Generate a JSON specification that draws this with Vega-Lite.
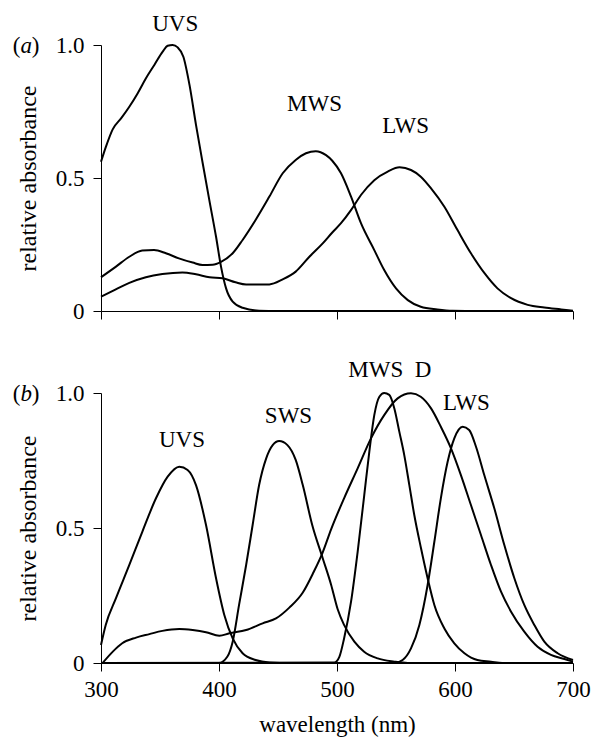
{
  "$schema": "https://vega.github.io/schema/vega-lite/v6.json",
  "padding": {"left": 12, "top": 12, "right": 5, "bottom": 5},
  "background": "white",
  "bounds": "flush",
  "spacing": 82,
  "config": {
    "view": {"stroke": null},
    "font": "Liberation Serif",
    "style": {
      "guide-label": {"font": "Liberation Serif", "fill": "black"},
      "guide-title": {"font": "Liberation Serif", "fill": "black", "fontWeight": "normal"}
    },
    "axis": {
      "grid": false,
      "domainColor": "black",
      "tickColor": "black",
      "labelColor": "black",
      "titleColor": "black",
      "labelFont": "Liberation Serif",
      "titleFont": "Liberation Serif",
      "labelFontSize": 23,
      "titleFontSize": 23,
      "titleFontWeight": "normal",
      "labelFlush": false,
      "tickSize": 8,
      "domainWidth": 1,
      "tickWidth": 1
    },
    "text": {"font": "Liberation Serif", "fontSize": 23, "color": "black"}
  },
  "datasets": {
    "curvesA": [
      {"p": "UVS", "wl": 300, "r": 0.561}, {"p": "UVS", "wl": 304.2, "r": 0.618}, {"p": "UVS", "wl": 309.9, "r": 0.683},
      {"p": "UVS", "wl": 317, "r": 0.724}, {"p": "UVS", "wl": 324, "r": 0.768}, {"p": "UVS", "wl": 331, "r": 0.818},
      {"p": "UVS", "wl": 338.1, "r": 0.875}, {"p": "UVS", "wl": 345.2, "r": 0.925}, {"p": "UVS", "wl": 352.3, "r": 0.975},
      {"p": "UVS", "wl": 356.5, "r": 0.997}, {"p": "UVS", "wl": 360.7, "r": 1.0}, {"p": "UVS", "wl": 365, "r": 0.991},
      {"p": "UVS", "wl": 369.8, "r": 0.956}, {"p": "UVS", "wl": 375, "r": 0.85}, {"p": "UVS", "wl": 380.5, "r": 0.70},
      {"p": "UVS", "wl": 386, "r": 0.56}, {"p": "UVS", "wl": 391.8, "r": 0.417}, {"p": "UVS", "wl": 397.5, "r": 0.279},
      {"p": "UVS", "wl": 401.7, "r": 0.167}, {"p": "UVS", "wl": 406, "r": 0.085}, {"p": "UVS", "wl": 411.6, "r": 0.035},
      {"p": "UVS", "wl": 420, "r": 0.012}, {"p": "UVS", "wl": 434, "r": 0.001}, {"p": "UVS", "wl": 450, "r": 0},
      {"p": "UVS", "wl": 550, "r": 0}, {"p": "UVS", "wl": 700, "r": 0},
      {"p": "MWS", "wl": 300, "r": 0.127}, {"p": "MWS", "wl": 312.7, "r": 0.167}, {"p": "MWS", "wl": 324, "r": 0.204},
      {"p": "MWS", "wl": 335, "r": 0.227}, {"p": "MWS", "wl": 345, "r": 0.229}, {"p": "MWS", "wl": 355, "r": 0.217},
      {"p": "MWS", "wl": 366, "r": 0.198}, {"p": "MWS", "wl": 377.7, "r": 0.182}, {"p": "MWS", "wl": 386, "r": 0.173},
      {"p": "MWS", "wl": 394.6, "r": 0.174}, {"p": "MWS", "wl": 401.7, "r": 0.185}, {"p": "MWS", "wl": 411.6, "r": 0.217},
      {"p": "MWS", "wl": 420, "r": 0.267}, {"p": "MWS", "wl": 431, "r": 0.342}, {"p": "MWS", "wl": 442.7, "r": 0.43},
      {"p": "MWS", "wl": 454, "r": 0.518}, {"p": "MWS", "wl": 465, "r": 0.568}, {"p": "MWS", "wl": 473.7, "r": 0.593},
      {"p": "MWS", "wl": 482, "r": 0.601}, {"p": "MWS", "wl": 490.7, "r": 0.586}, {"p": "MWS", "wl": 496, "r": 0.565},
      {"p": "MWS", "wl": 503.4, "r": 0.518}, {"p": "MWS", "wl": 511.9, "r": 0.43}, {"p": "MWS", "wl": 520.3, "r": 0.33},
      {"p": "MWS", "wl": 531.6, "r": 0.229}, {"p": "MWS", "wl": 540, "r": 0.154}, {"p": "MWS", "wl": 550, "r": 0.085},
      {"p": "MWS", "wl": 560, "r": 0.041}, {"p": "MWS", "wl": 571, "r": 0.016}, {"p": "MWS", "wl": 585, "r": 0.006},
      {"p": "MWS", "wl": 598, "r": 0.001}, {"p": "MWS", "wl": 620, "r": 0}, {"p": "MWS", "wl": 700, "r": 0},
      {"p": "LWS", "wl": 300, "r": 0.054}, {"p": "LWS", "wl": 310, "r": 0.076}, {"p": "LWS", "wl": 324, "r": 0.106},
      {"p": "LWS", "wl": 338, "r": 0.127}, {"p": "LWS", "wl": 352, "r": 0.139}, {"p": "LWS", "wl": 369, "r": 0.145},
      {"p": "LWS", "wl": 380.5, "r": 0.138}, {"p": "LWS", "wl": 392, "r": 0.127}, {"p": "LWS", "wl": 403, "r": 0.123},
      {"p": "LWS", "wl": 414, "r": 0.108}, {"p": "LWS", "wl": 423, "r": 0.1}, {"p": "LWS", "wl": 442.7, "r": 0.1},
      {"p": "LWS", "wl": 454, "r": 0.119}, {"p": "LWS", "wl": 465, "r": 0.148}, {"p": "LWS", "wl": 476.6, "r": 0.204},
      {"p": "LWS", "wl": 487.9, "r": 0.254}, {"p": "LWS", "wl": 496, "r": 0.295}, {"p": "LWS", "wl": 503.4, "r": 0.33},
      {"p": "LWS", "wl": 512, "r": 0.38}, {"p": "LWS", "wl": 520.3, "r": 0.436}, {"p": "LWS", "wl": 531.6, "r": 0.492},
      {"p": "LWS", "wl": 543, "r": 0.524}, {"p": "LWS", "wl": 553, "r": 0.54}, {"p": "LWS", "wl": 562.7, "r": 0.53},
      {"p": "LWS", "wl": 571, "r": 0.505}, {"p": "LWS", "wl": 579.7, "r": 0.461}, {"p": "LWS", "wl": 591, "r": 0.392},
      {"p": "LWS", "wl": 602, "r": 0.305}, {"p": "LWS", "wl": 613.5, "r": 0.217}, {"p": "LWS", "wl": 625, "r": 0.142},
      {"p": "LWS", "wl": 636, "r": 0.085}, {"p": "LWS", "wl": 647.5, "r": 0.048}, {"p": "LWS", "wl": 661.6, "r": 0.023},
      {"p": "LWS", "wl": 675.7, "r": 0.013}, {"p": "LWS", "wl": 690, "r": 0.006}, {"p": "LWS", "wl": 700, "r": 0.001}
    ],
    "curvesB": [
      {"p": "UVS", "wl": 300, "r": 0.067}, {"p": "UVS", "wl": 304, "r": 0.141}, {"p": "UVS", "wl": 312.7, "r": 0.24},
      {"p": "UVS", "wl": 324, "r": 0.363}, {"p": "UVS", "wl": 335, "r": 0.486}, {"p": "UVS", "wl": 346.6, "r": 0.61},
      {"p": "UVS", "wl": 356.5, "r": 0.69}, {"p": "UVS", "wl": 366.4, "r": 0.727}, {"p": "UVS", "wl": 373.4, "r": 0.715},
      {"p": "UVS", "wl": 380.5, "r": 0.659}, {"p": "UVS", "wl": 389, "r": 0.511}, {"p": "UVS", "wl": 397.5, "r": 0.314},
      {"p": "UVS", "wl": 404.5, "r": 0.178}, {"p": "UVS", "wl": 411.6, "r": 0.091}, {"p": "UVS", "wl": 420, "r": 0.036},
      {"p": "UVS", "wl": 431, "r": 0.011}, {"p": "UVS", "wl": 442.7, "r": 0.002}, {"p": "UVS", "wl": 460, "r": 0},
      {"p": "UVS", "wl": 700, "r": 0},
      {"p": "SWS", "wl": 300, "r": 0}, {"p": "SWS", "wl": 400, "r": 0}, {"p": "SWS", "wl": 407, "r": 0.023},
      {"p": "SWS", "wl": 411.6, "r": 0.079}, {"p": "SWS", "wl": 417, "r": 0.215}, {"p": "SWS", "wl": 423, "r": 0.363},
      {"p": "SWS", "wl": 428.5, "r": 0.511}, {"p": "SWS", "wl": 434, "r": 0.659}, {"p": "SWS", "wl": 440, "r": 0.758},
      {"p": "SWS", "wl": 445.5, "r": 0.807}, {"p": "SWS", "wl": 451, "r": 0.822}, {"p": "SWS", "wl": 458, "r": 0.807},
      {"p": "SWS", "wl": 465, "r": 0.752}, {"p": "SWS", "wl": 471, "r": 0.659}, {"p": "SWS", "wl": 479, "r": 0.511},
      {"p": "SWS", "wl": 487.9, "r": 0.388}, {"p": "SWS", "wl": 495, "r": 0.29}, {"p": "SWS", "wl": 500.5, "r": 0.2},
      {"p": "SWS", "wl": 506, "r": 0.141}, {"p": "SWS", "wl": 514.7, "r": 0.079}, {"p": "SWS", "wl": 523, "r": 0.042},
      {"p": "SWS", "wl": 534.5, "r": 0.017}, {"p": "SWS", "wl": 548.6, "r": 0.005}, {"p": "SWS", "wl": 560, "r": 0},
      {"p": "SWS", "wl": 700, "r": 0},
      {"p": "MWS", "wl": 300, "r": 0}, {"p": "MWS", "wl": 497.7, "r": 0.002}, {"p": "MWS", "wl": 502, "r": 0.023},
      {"p": "MWS", "wl": 506, "r": 0.091}, {"p": "MWS", "wl": 511.9, "r": 0.227}, {"p": "MWS", "wl": 517.5, "r": 0.412},
      {"p": "MWS", "wl": 523.1, "r": 0.622}, {"p": "MWS", "wl": 527.4, "r": 0.783}, {"p": "MWS", "wl": 531.6, "r": 0.918},
      {"p": "MWS", "wl": 535.9, "r": 0.986}, {"p": "MWS", "wl": 540, "r": 1.0}, {"p": "MWS", "wl": 544.3, "r": 0.993},
      {"p": "MWS", "wl": 548.6, "r": 0.943}, {"p": "MWS", "wl": 552.8, "r": 0.857}, {"p": "MWS", "wl": 557, "r": 0.77},
      {"p": "MWS", "wl": 561.3, "r": 0.659}, {"p": "MWS", "wl": 565.5, "r": 0.548}, {"p": "MWS", "wl": 571.2, "r": 0.425},
      {"p": "MWS", "wl": 576.8, "r": 0.314}, {"p": "MWS", "wl": 582.5, "r": 0.215}, {"p": "MWS", "wl": 591, "r": 0.128},
      {"p": "MWS", "wl": 599.4, "r": 0.073}, {"p": "MWS", "wl": 608, "r": 0.036}, {"p": "MWS", "wl": 619, "r": 0.011},
      {"p": "MWS", "wl": 630.5, "r": 0.005}, {"p": "MWS", "wl": 640, "r": 0}, {"p": "MWS", "wl": 700, "r": 0},
      {"p": "D", "wl": 301.4, "r": 0}, {"p": "D", "wl": 310, "r": 0.042}, {"p": "D", "wl": 318, "r": 0.073},
      {"p": "D", "wl": 329.7, "r": 0.094}, {"p": "D", "wl": 341, "r": 0.107}, {"p": "D", "wl": 352, "r": 0.119},
      {"p": "D", "wl": 366.4, "r": 0.126}, {"p": "D", "wl": 377.7, "r": 0.122}, {"p": "D", "wl": 389, "r": 0.114},
      {"p": "D", "wl": 400.3, "r": 0.101}, {"p": "D", "wl": 408.8, "r": 0.11}, {"p": "D", "wl": 423, "r": 0.122},
      {"p": "D", "wl": 437, "r": 0.147}, {"p": "D", "wl": 448.3, "r": 0.165}, {"p": "D", "wl": 459.6, "r": 0.205},
      {"p": "D", "wl": 470.9, "r": 0.26}, {"p": "D", "wl": 480, "r": 0.335}, {"p": "D", "wl": 487.9, "r": 0.41},
      {"p": "D", "wl": 495, "r": 0.495}, {"p": "D", "wl": 506, "r": 0.61}, {"p": "D", "wl": 517.5, "r": 0.721},
      {"p": "D", "wl": 528.8, "r": 0.832}, {"p": "D", "wl": 540, "r": 0.918}, {"p": "D", "wl": 551.4, "r": 0.98},
      {"p": "D", "wl": 562.7, "r": 0.999}, {"p": "D", "wl": 571, "r": 0.986}, {"p": "D", "wl": 579.7, "r": 0.943},
      {"p": "D", "wl": 588, "r": 0.875}, {"p": "D", "wl": 596.6, "r": 0.795}, {"p": "D", "wl": 605, "r": 0.696},
      {"p": "D", "wl": 613.5, "r": 0.585}, {"p": "D", "wl": 622, "r": 0.474}, {"p": "D", "wl": 630.5, "r": 0.363},
      {"p": "D", "wl": 639, "r": 0.264}, {"p": "D", "wl": 647.5, "r": 0.19}, {"p": "D", "wl": 658.7, "r": 0.116},
      {"p": "D", "wl": 670, "r": 0.06}, {"p": "D", "wl": 681.3, "r": 0.03}, {"p": "D", "wl": 692.7, "r": 0.015},
      {"p": "D", "wl": 700, "r": 0.005},
      {"p": "LWS", "wl": 300, "r": 0}, {"p": "LWS", "wl": 548.6, "r": 0}, {"p": "LWS", "wl": 555.6, "r": 0.011},
      {"p": "LWS", "wl": 562.7, "r": 0.054}, {"p": "LWS", "wl": 569.8, "r": 0.141}, {"p": "LWS", "wl": 576.8, "r": 0.289},
      {"p": "LWS", "wl": 582.5, "r": 0.449}, {"p": "LWS", "wl": 588, "r": 0.61}, {"p": "LWS", "wl": 593.8, "r": 0.746},
      {"p": "LWS", "wl": 599.4, "r": 0.832}, {"p": "LWS", "wl": 606.5, "r": 0.875}, {"p": "LWS", "wl": 612, "r": 0.863},
      {"p": "LWS", "wl": 617.8, "r": 0.801}, {"p": "LWS", "wl": 624.8, "r": 0.696}, {"p": "LWS", "wl": 633.3, "r": 0.573},
      {"p": "LWS", "wl": 641.8, "r": 0.437}, {"p": "LWS", "wl": 650.3, "r": 0.314}, {"p": "LWS", "wl": 658.7, "r": 0.215},
      {"p": "LWS", "wl": 667.2, "r": 0.141}, {"p": "LWS", "wl": 675.7, "r": 0.079}, {"p": "LWS", "wl": 687, "r": 0.036},
      {"p": "LWS", "wl": 700, "r": 0.011}
    ],
    "labelsA": [
      {"t": "UVS", "wl": 362.9, "r": 1.054},
      {"t": "MWS", "wl": 481, "r": 0.753},
      {"t": "LWS", "wl": 558.2, "r": 0.67}
    ],
    "labelsB": [
      {"t": "UVS", "wl": 368.6, "r": 0.8},
      {"t": "SWS", "wl": 458.9, "r": 0.888},
      {"t": "MWS", "wl": 532.8, "r": 1.06},
      {"t": "D", "wl": 572.9, "r": 1.06},
      {"t": "LWS", "wl": 609.6, "r": 0.937}
    ],
    "parensA": [{"t": "(", "wl": 228.4, "r": 0.97}, {"t": ")", "wl": 244.5, "r": 0.97}],
    "letterA": [{"t": "a", "wl": 236.6, "r": 0.97}],
    "parensB": [{"t": "(", "wl": 228.4, "r": 0.972}, {"t": ")", "wl": 244.5, "r": 0.972}],
    "letterB": [{"t": "b", "wl": 236.6, "r": 0.972}]
  },
  "vconcat": [
    {
      "width": 472,
      "height": 266,
      "encoding": {
        "x": {"field": "wl", "type": "quantitative", "scale": {"domain": [300, 700], "nice": false, "zero": false},
              "axis": {"values": [300, 400, 500, 600, 700], "labels": false, "title": null}},
        "y": {"field": "r", "type": "quantitative", "scale": {"domain": [0, 1], "nice": false},
              "axis": {"values": [0, 0.5, 1], "labelExpr": "datum.value == 0 ? '0' : format(datum.value, '.1f')",
                       "labelFont": "Liberation Serif", "titleFont": "Liberation Serif",
                       "title": "relative absorbance", "titleFontSize": 24, "titlePadding": 15, "labelPadding": 9}}
      },
      "layer": [
        {"data": {"name": "curvesA"}, "mark": {"type": "line", "color": "black", "strokeWidth": 2, "interpolate": "monotone"},
         "encoding": {"detail": {"field": "p"}}},
        {"data": {"name": "labelsA"}, "mark": {"type": "text", "align": "center", "baseline": "alphabetic"},
         "encoding": {"text": {"field": "t"}}},
        {"data": {"name": "parensA"}, "mark": {"type": "text", "align": "center", "baseline": "alphabetic"},
         "encoding": {"text": {"field": "t"}}},
        {"data": {"name": "letterA"}, "mark": {"type": "text", "align": "center", "baseline": "alphabetic", "fontStyle": "italic"},
         "encoding": {"text": {"field": "t"}}}
      ]
    },
    {
      "width": 472,
      "height": 270,
      "encoding": {
        "x": {"field": "wl", "type": "quantitative", "scale": {"domain": [300, 700], "nice": false, "zero": false},
              "axis": {"values": [300, 400, 500, 600, 700], "title": "wavelength (nm)", "labelFlush": false,
                       "labelFont": "Liberation Serif", "titleFont": "Liberation Serif",
                       "labelPadding": 7, "titlePadding": 12}},
        "y": {"field": "r", "type": "quantitative", "scale": {"domain": [0, 1], "nice": false},
              "axis": {"values": [0, 0.5, 1], "labelExpr": "datum.value == 0 ? '0' : format(datum.value, '.1f')",
                       "labelFont": "Liberation Serif", "titleFont": "Liberation Serif",
                       "title": "relative absorbance", "titleFontSize": 24, "titlePadding": 15, "labelPadding": 9}}
      },
      "layer": [
        {"data": {"name": "curvesB"}, "mark": {"type": "line", "color": "black", "strokeWidth": 2, "interpolate": "monotone"},
         "encoding": {"detail": {"field": "p"}}},
        {"data": {"name": "labelsB"}, "mark": {"type": "text", "align": "center", "baseline": "alphabetic"},
         "encoding": {"text": {"field": "t"}}},
        {"data": {"name": "parensB"}, "mark": {"type": "text", "align": "center", "baseline": "alphabetic"},
         "encoding": {"text": {"field": "t"}}},
        {"data": {"name": "letterB"}, "mark": {"type": "text", "align": "center", "baseline": "alphabetic", "fontStyle": "italic"},
         "encoding": {"text": {"field": "t"}}}
      ]
    }
  ]
}
